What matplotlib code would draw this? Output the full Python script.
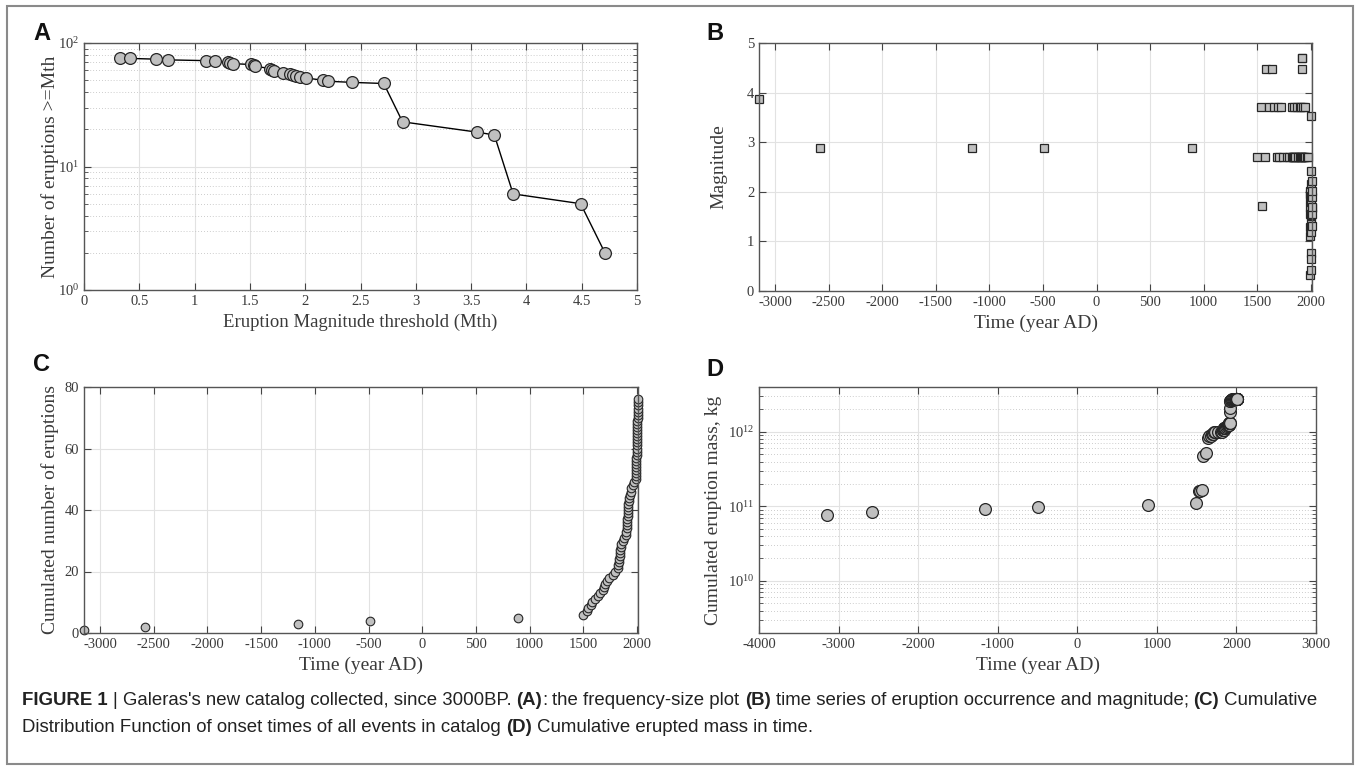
import numpy as np
import matplotlib
matplotlib.use("Agg")
import matplotlib.pyplot as plt
from matplotlib.patches import Rectangle
from matplotlib.ticker import LogLocator, MultipleLocator, NullFormatter

# panel A: frequency-size
mth = [0.33, 0.42, 0.65, 0.76, 1.10, 1.18, 1.30, 1.32, 1.35, 1.51, 1.54, 1.55,
       1.68, 1.70, 1.72, 1.80, 1.86, 1.89, 1.92, 1.95, 2.01, 2.16, 2.21, 2.42,
       2.71, 2.88, 3.55, 3.71, 3.88, 4.49, 4.71]
n_ge = [76, 75, 74, 73, 72, 71, 70, 69, 68, 67, 66, 65,
        62, 61, 59, 57, 56, 55, 54, 53, 52, 50, 49, 48,
        47, 23, 19, 18, 6, 5, 2]

event_year = [-3150, -2580, -1160, -490, 890,
              1494, 1531, 1545, 1571, 1581,
              1612, 1640, 1658, 1680, 1690,
              1700, 1717, 1736, 1773, 1800,
              1820, 1826, 1830, 1834, 1838,
              1842, 1846, 1851, 1856, 1873,
              1882, 1895, 1900, 1903, 1906,
              1908, 1910, 1913, 1914, 1916,
              1916, 1917, 1925, 1929, 1936,
              1944, 1947, 1960, 1975, 1988,
              1989, 1991, 1992, 1993, 1994, 1995, 1996, 1997, 1998, 1999,
              2000, 2001, 2002, 2002, 2003, 2004, 2004, 2005, 2005, 2006,
              2007, 2007, 2008, 2008, 2009, 2010]
event_mag = [3.88, 2.88, 2.88, 2.88, 2.88,
             2.70, 3.70, 1.72, 2.70, 4.48,
             3.70, 4.48, 3.70, 2.70, 3.70,
             2.70, 3.70, 2.70, 2.70, 2.70,
             2.70, 3.70, 2.70, 2.70, 2.70,
             3.70, 2.70, 2.70, 2.70, 3.70,
             2.70, 3.70, 2.70, 2.70, 2.70,
             3.70, 2.70, 2.70, 2.70, 4.70,
             4.48, 4.70, 2.70, 3.70, 2.70,
             2.70, 3.70, 2.70, 2.70, 1.95,
             1.30, 1.70, 2.01, 1.10, 0.33, 1.55, 1.86, 0.42, 1.18, 2.16,
             1.51, 0.76, 3.53, 1.92, 1.35, 2.41, 1.80, 0.65, 1.54, 2.21,
             1.68, 1.55, 1.89, 1.32, 1.70, 2.01]

# panel D: cumulated erupted mass (kg) at each event
cum_mass = [7.6e10, 8.3e10, 9.1e10, 9.9e10, 1.06e11,
            1.11e11, 1.61e11, 1.62e11, 1.67e11, 4.69e11,
            5.19e11, 8.21e11, 8.71e11, 8.76e11, 9.26e11,
            9.31e11, 9.81e11, 9.86e11, 9.91e11, 9.96e11,
            1.00e12, 1.05e12, 1.06e12, 1.06e12, 1.07e12,
            1.12e12, 1.12e12, 1.13e12, 1.13e12, 1.18e12,
            1.19e12, 1.24e12, 1.24e12, 1.25e12, 1.25e12,
            1.30e12, 1.31e12, 1.31e12, 1.32e12, 1.82e12,
            2.12e12, 2.62e12, 2.63e12, 2.68e12, 2.68e12,
            2.69e12, 2.74e12, 2.74e12, 2.75e12, 2.75e12,
            2.75e12, 2.75e12, 2.75e12, 2.75e12, 2.75e12, 2.75e12, 2.75e12, 2.75e12, 2.75e12, 2.75e12,
            2.75e12, 2.75e12, 2.78e12, 2.78e12, 2.78e12, 2.78e12, 2.78e12, 2.78e12, 2.78e12, 2.78e12,
            2.78e12, 2.78e12, 2.78e12, 2.78e12, 2.78e12, 2.78e12]

plt.rcParams['font.family'] = ['Liberation Serif', 'DejaVu Serif']
plt.rcParams['mathtext.fontset'] = 'custom'
plt.rcParams['mathtext.rm'] = 'Liberation Serif'
plt.rcParams['mathtext.it'] = 'Liberation Serif:italic'
plt.rcParams['axes.unicode_minus'] = False

W, H = 1356, 767
fig = plt.figure(figsize=(W / 100, H / 100), dpi=100)

GRAY = '#c0c0c0'
EDGE = '#262626'
TXT = '#3a3a3a'


def box(l, t, r, b):
    return fig.add_axes([l / W, 1 - b / H, (r - l) / W, (b - t) / H])


def style(ax, logy=False):
    for s in ax.spines.values():
        s.set_color('#555555')
        s.set_linewidth(1.0)
    ax.tick_params(which='both', direction='in', top=True, right=True,
                   colors='#444444', labelcolor=TXT, labelsize=10.5)
    ax.tick_params(which='major', length=5)
    ax.tick_params(which='minor', length=3)
    ax.set_axisbelow(True)
    ax.grid(True, which='major', color='#e2e2e2', lw=0.8)
    if logy:
        ax.yaxis.set_minor_locator(LogLocator(base=10, subs=np.arange(2, 10)))
        ax.yaxis.set_minor_formatter(NullFormatter())
        ax.grid(True, which='minor', axis='y', color='#bcbcbc', lw=0.6, ls=(0, (1, 2.5)))


# ---- A
axA = box(84, 43, 637, 290)
axA.plot(mth, n_ge, '-o', color='black', lw=1.0, ms=8.5, mfc=GRAY, mec=EDGE, mew=0.9)
axA.set_yscale('log')
style(axA, logy=True)
axA.set_xlim(0, 5)
axA.set_ylim(1, 100)
axA.xaxis.set_major_locator(MultipleLocator(0.5))
axA.set_xticklabels([f'{v:g}' for v in axA.get_xticks()])
axA.set_xlabel('Eruption Magnitude threshold (Mth)', fontsize=13.5, color=TXT, labelpad=4)
axA.set_ylabel('Number of eruptions >=Mth', fontsize=14, color=TXT, labelpad=-1)

# ---- B
axB = box(759, 43, 1312, 291)
style(axB)
axB.plot(event_year, event_mag, 's', ms=6, mfc=GRAY, mec=EDGE, mew=0.9, clip_on=False)
axB.set_xlim(-3150, 2010)
axB.set_ylim(0, 5)
axB.xaxis.set_major_locator(MultipleLocator(500))
axB.yaxis.set_major_locator(MultipleLocator(1))
axB.set_xlabel('Time (year AD)', fontsize=14, color=TXT, labelpad=4)
axB.set_ylabel('Magnitude', fontsize=14, color=TXT, labelpad=14)

# ---- C
order = np.argsort(event_year, kind='stable')
c_year = np.array(event_year)[order]
c_count = np.arange(1, len(c_year) + 1)
axC = box(84, 387, 638, 633)
style(axC)
axC.plot(c_year, c_count, 'o', ms=6.2, mfc=GRAY, mec=EDGE, mew=0.8, clip_on=False)
axC.set_xlim(-3150, 2010)
axC.set_ylim(0, 80)
axC.xaxis.set_major_locator(MultipleLocator(500))
axC.yaxis.set_major_locator(MultipleLocator(20))
axC.set_xlabel('Time (year AD)', fontsize=14, color=TXT, labelpad=4)
axC.set_ylabel('Cumulated number of eruptions', fontsize=14, color=TXT, labelpad=4)

# ---- D
axD = box(759, 387, 1316, 633)
axD.set_yscale('log')
style(axD, logy=True)
axD.plot(event_year, cum_mass, 'o', ms=8.5, mfc=GRAY, mec=EDGE, mew=0.9)
axD.set_xlim(-4000, 3000)
axD.set_ylim(2e9, 4e12)
axD.xaxis.set_major_locator(MultipleLocator(1000))
axD.set_xlabel('Time (year AD)', fontsize=14, color=TXT, labelpad=4)
axD.set_ylabel('Cumulated eruption mass, kg', fontsize=14, color=TXT, labelpad=4)

# panel letters
for lab, x, y in [('A', 33, 33), ('B', 706, 33), ('C', 33, 365), ('D', 706, 370)]:
    fig.text(x / W, 1 - y / H, lab, family='Liberation Sans', weight='bold',
             fontsize=17, va='center', ha='left', color='#111111')

# frame
fig.patches.append(Rectangle((7 / W, 1 - 764 / H), 1346 / W, 758 / H, transform=fig.transFigure,
                             fill=False, ec='#8a8a8a', lw=1.5))

# caption with bold fragments
renderer = fig.canvas.get_renderer()
cap_kw = dict(family='Liberation Sans', fontsize=13.4, va='baseline', color='#222222')


def width(s, bold):
    t = fig.text(0, 0, s, weight='bold' if bold else 'normal', **cap_kw)
    w = t.get_window_extent(renderer).width
    t.remove()
    return w


sp = width('x x', False) - width('xx', False)
lines = [
    (705, [('FIGURE 1', True), ('|', False), ("Galeras's new catalog collected, since 3000BP.", False),
           ('(A)', True), (':', None), ('the frequency-size plot', False), ('(B)', True),
           ('time series of eruption occurrence and magnitude;', False), ('(C)', True),
           ('Cumulative', False)]),
    (732, [('Distribution Function of onset times of all events in catalog', False), ('(D)', True),
           ('Cumulative erupted mass in time.', False)]),
]
for y, parts in lines:
    x = 22.0
    for s, b in parts:
        if b is None:
            x -= sp
            b = False
        t = fig.text(x / W, 1 - y / H, s, weight='bold' if b else 'normal', **cap_kw)
        x += t.get_window_extent(renderer).width + sp

fig.savefig('out.png', dpi=100)
